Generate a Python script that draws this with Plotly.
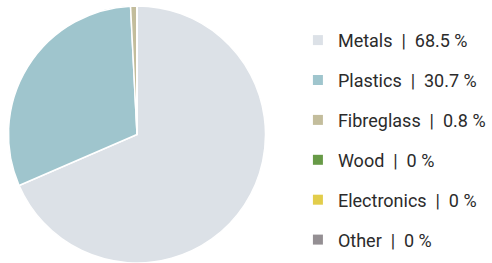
import plotly.graph_objects as go

categories = ["Metals", "Plastics", "Fibreglass", "Wood", "Electronics", "Other"]
values = [68.5, 30.7, 0.8, 0, 0, 0]
colors = ["#dce1e7", "#9fc5cd", "#c3bd9c", "#679a47", "#e2cd4b", "#948f93"]

fig = go.Figure()
fig.add_trace(go.Pie(
    labels=categories, values=values, sort=False, direction="clockwise", rotation=0,
    marker=dict(colors=colors, line=dict(color="white", width=1.5)),
    textinfo="none", hoverinfo="label+percent", showlegend=False,
    domain=dict(x=[0, 258/484], y=[0, 1]),
))
sp = "\u00a0\u00a0"
for i, (c, v, col) in enumerate(zip(categories, values, colors)):
    fig.add_trace(go.Scatter(
        x=[None], y=[None], mode="markers",
        marker=dict(symbol="square", size=10, color=col),
        name=f"{c}{sp}|{sp}{v:g}\u00a0%", legendgroup=f"g{i}", showlegend=True,
    ))

fig.update_layout(
    width=492, height=263,
    margin=dict(l=8, r=0, t=6, b=0, autoexpand=False),
    paper_bgcolor="white", plot_bgcolor="white",
    xaxis=dict(visible=False), yaxis=dict(visible=False),
    font=dict(family="Roboto", size=18, color="#2b2b2b"),
    legend=dict(x=0.599, xanchor="left", y=0.479, yanchor="middle",
                tracegroupgap=13.5, itemwidth=30, bgcolor="rgba(0,0,0,0)"),
)
fig.write_html("out.html", config={"displayModeBar": False},
               post_script="document.body.style.margin='0';")
